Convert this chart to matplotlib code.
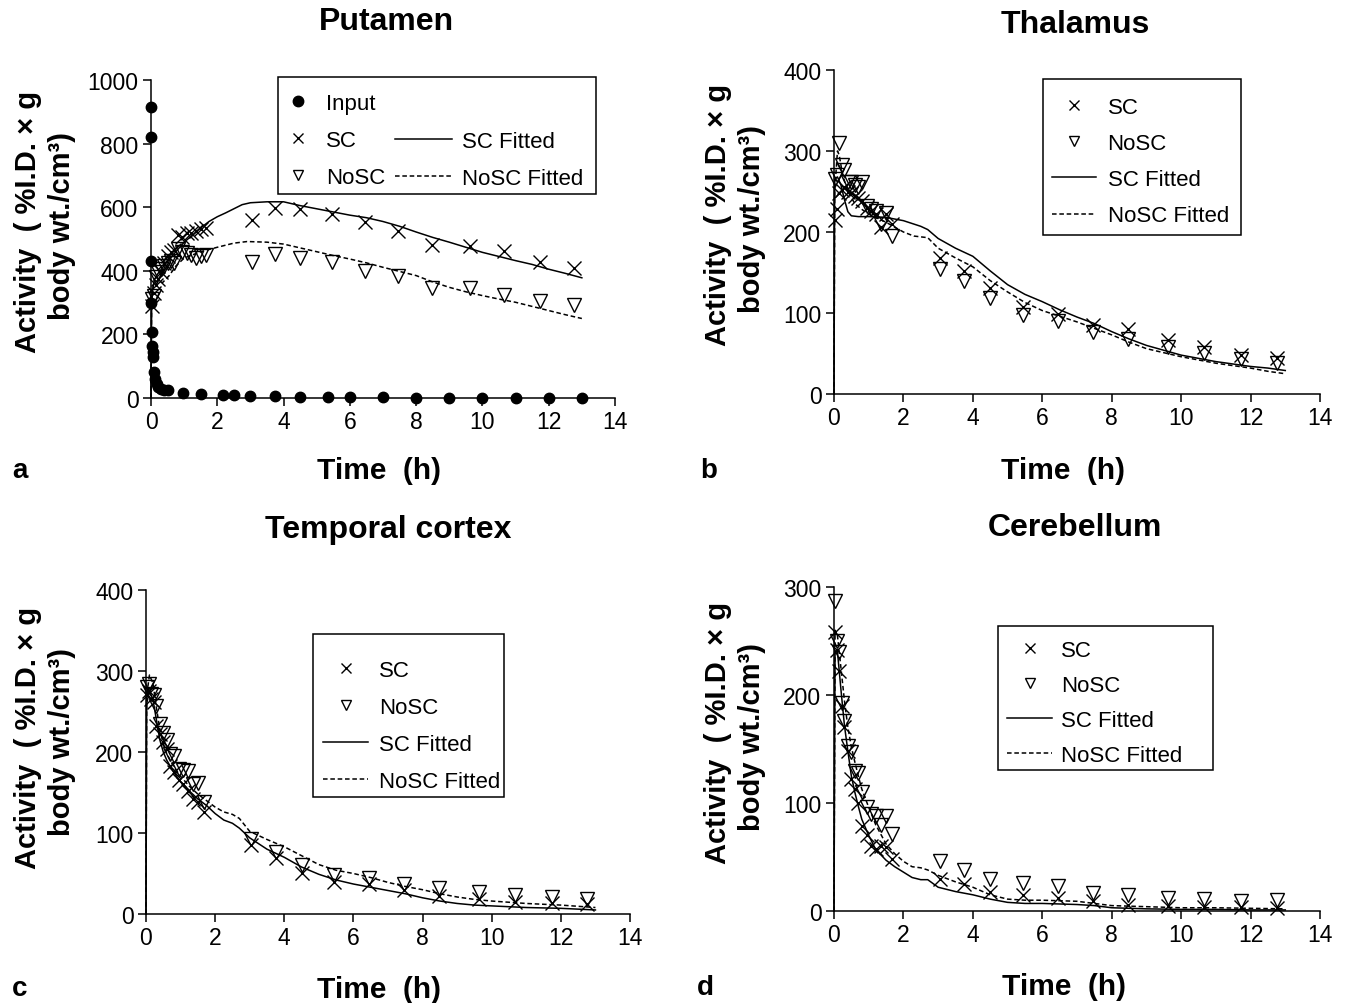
import matplotlib.pyplot as plt
from matplotlib.lines import Line2D
from matplotlib.patches import Rectangle

plt.rcParams['font.family'] = ['Liberation Sans', 'DejaVu Sans']

W, H = 1345, 1004

# frame mid-times (h)
t_early = [0.03, 0.08, 0.15, 0.22, 0.3, 0.4, 0.5, 0.6, 0.7, 0.82, 0.95, 1.08, 1.22, 1.36, 1.5, 1.67]
t_late = [3.05, 3.75, 4.5, 5.45, 6.45, 7.45, 8.47, 9.62, 10.66, 11.73, 12.77]
frame_t = t_early + t_late

# --- Putamen ---
input_t = [0, 0, 0, 0, 0.02, 0.03, 0.05, 0.07, 0.1, 0.13, 0.17, 0.22, 0.3, 0.4, 0.5,
           0.97, 1.5, 2.17, 2.5, 3.0, 3.75, 4.5, 5.35, 6.0, 7.0, 8.0, 9.0, 10.0, 11.0, 12.0, 13.0]
input_act = [915, 820, 430, 300, 207, 165, 145, 129, 82, 60, 45, 35, 28, 25, 24,
             16, 13, 9, 9, 6, 5, 3, 3, 2, 2, 1, 1, 1, 1, 1, 1]
put_sc = [290, 330, 355, 375, 395, 425, 445, 458, 465, 512, 506, 520, 518, 525, 530, 536,
          561, 597, 595, 579, 552, 525, 480, 478, 462, 428, 410]
put_nosc = [310, 320, 380, 395, 405, 415, 425, 430, 425, 470, 458, 455, 450, 441, 445, 450,
            428, 452, 441, 428, 400, 385, 345, 345, 325, 305, 293]
put_sc_fit_t = [0, 0.02, 0.05, 0.1, 0.2, 0.35, 0.5, 0.75, 1.0, 1.25, 1.5, 1.75, 2.0, 2.25, 2.5, 2.75,
                3.0, 3.5, 4.0, 4.5, 5.0, 5.5, 6.0, 6.5, 7.0, 7.5, 8.0, 8.5, 9.0, 9.5, 10, 10.5, 11,
                11.5, 12, 12.5, 13]
put_sc_fit = [0, 290, 340, 372, 390, 410, 430, 460, 490, 512, 535, 555, 570, 582, 595, 608,
              614, 617, 617, 605, 595, 585, 575, 567, 555, 540, 522, 505, 490, 474, 458, 445, 432,
              420, 405, 392, 378]
put_nosc_fit_t = [0, 0.02, 0.1, 0.2, 0.35, 0.55, 0.75, 1.0, 1.5, 2.0, 2.5, 2.9, 3.5, 4.0, 4.5, 5.0,
                  5.5, 6.0, 6.5, 7.0, 7.5, 8.0, 8.5, 9.0, 9.5, 10, 10.5, 11, 11.5, 12, 12.5, 13]
put_nosc_fit = [0, 320, 370, 366, 363, 385, 415, 440, 460, 474, 487, 492, 490, 484, 472, 460,
                448, 437, 425, 411, 398, 385, 365, 348, 334, 322, 311, 301, 288, 275, 262, 250]

# --- Thalamus ---
tha_sc = [215, 228, 248, 252, 255, 250, 248, 245, 242, 238, 230, 226, 222, 206, 222, 210,
          168, 152, 131, 108, 99, 85, 80, 67, 58, 48, 45]
tha_nosc = [265, 270, 310, 283, 276, 262, 262, 258, 255, 262, 232, 228, 226, 210, 224, 195,
            154, 140, 119, 97, 90, 76, 68, 58, 51, 43, 38]
tha_sc_fit_t = [0, 0.02, 0.1, 0.2, 0.3, 0.4, 0.5, 0.7, 1.0, 1.5, 2.0, 2.5, 2.7, 3.0, 3.5, 4.0, 4.5,
                5.0, 5.5, 6.0, 6.5, 7.0, 7.5, 8.0, 8.5, 9, 9.5, 10, 10.5, 11, 11.5, 12, 12.5, 13]
tha_sc_fit = [0, 265, 268, 258, 240, 225, 220, 219, 219, 218, 214, 207, 203, 192, 180, 170, 152,
              135, 123, 114, 104, 95, 87, 77, 68, 60, 54, 48, 44, 40, 37, 34, 32, 29]
tha_nosc_fit_t = [0, 0.02, 0.1, 0.15, 0.25, 0.4, 0.6, 0.8, 1.0, 1.5, 2.0, 2.3, 2.7, 3.0, 3.5, 4.0,
                  4.5, 5.0, 5.5, 6.0, 6.5, 7.0, 7.5, 8.0, 8.5, 9, 9.5, 10, 10.5, 11, 11.5, 12, 12.5, 13]
tha_nosc_fit = [0, 250, 300, 295, 270, 250, 235, 228, 222, 212, 200, 195, 193, 180, 168, 157,
                140, 126, 113, 103, 96, 89, 81, 73, 64, 56, 51, 46, 42, 38, 35, 32, 28, 25]

# --- Temporal cortex ---
tem_sc = [270, 275, 265, 262, 232, 222, 212, 204, 183, 175, 166, 160, 152, 142, 138, 126,
          85, 69, 51, 40, 37, 30, 22, 18, 15, 13, 12]
tem_nosc = [280, 284, 272, 270, 257, 235, 224, 215, 197, 195, 179, 178, 177, 160, 162, 138,
            93, 77, 60, 48, 45, 37, 32, 27, 23, 21, 19]
tem_sc_fit_t = [0, 0.02, 0.1, 0.2, 0.3, 0.4, 0.5, 0.6, 0.8, 1.0, 1.25, 1.5, 1.75, 2.0, 2.25, 2.5,
                2.7, 3.0, 3.5, 4.0, 4.5, 5.0, 5.5, 6.0, 6.5, 7.0, 7.5, 8.0, 8.5, 9, 9.5, 10, 11, 12, 13]
tem_sc_fit = [0, 260, 275, 265, 240, 215, 200, 190, 175, 163, 152, 142, 134, 124, 116, 112,
              106, 94, 80, 70, 58, 49, 42, 37, 33, 29, 25, 20, 16, 13, 11, 10, 8, 7, 5]
tem_nosc_fit_t = [0, 0.02, 0.1, 0.2, 0.3, 0.4, 0.5, 0.6, 0.8, 1.0, 1.25, 1.5, 1.75, 2.0, 2.25, 2.5,
                  2.7, 3.0, 3.5, 4.0, 4.5, 5.0, 5.5, 6.0, 6.5, 7.0, 7.5, 8.0, 8.5, 9, 9.5, 10, 11, 12, 13]
tem_nosc_fit = [0, 270, 295, 285, 255, 228, 210, 198, 182, 170, 158, 148, 140, 132, 126, 123,
                118, 102, 92, 83, 72, 61, 54, 50, 45, 39, 34, 30, 25, 21, 18, 16, 13, 11, 8]

# --- Cerebellum ---
cer_sc = [258, 242, 222, 190, 170, 148, 122, 113, 100, 79, 70, 60, 57, 60, 59, 48,
          30, 25, 18, 15, 12, 9, 6, 5, 4, 4, 3]
cer_nosc = [287, 250, 240, 193, 176, 153, 147, 130, 128, 110, 96, 90, 88, 80, 88, 71,
            46, 38, 30, 26, 23, 17, 15, 12, 11, 9, 10]
cer_sc_fit_t = [0, 0.03, 0.1, 0.2, 0.3, 0.4, 0.5, 0.6, 0.7, 0.8, 1.0, 1.2, 1.5, 1.75, 2.0, 2.25,
                2.5, 2.7, 3.0, 3.5, 4.0, 4.5, 5.0, 5.5, 6.0, 7.0, 7.5, 8.0, 9, 10, 11, 12, 13]
cer_sc_fit = [0, 240, 240, 205, 172, 148, 125, 110, 97, 85, 70, 57, 47, 41, 36, 31,
              29, 29, 22, 18, 15, 11, 8, 7, 7, 6, 5, 3, 2, 1.5, 1.5, 1, 1]
cer_nosc_fit_t = [0, 0.03, 0.1, 0.2, 0.3, 0.4, 0.5, 0.6, 0.7, 0.8, 1.0, 1.2, 1.5, 1.75, 2.0, 2.25,
                  2.5, 2.7, 3.0, 3.5, 4.0, 4.5, 5.0, 5.5, 6.0, 7.0, 7.5, 8.0, 9, 10, 11, 12, 13]
cer_nosc_fit = [0, 260, 255, 225, 195, 170, 152, 138, 125, 113, 96, 80, 62, 53, 46, 41,
                40, 38, 33, 27, 22, 15, 11, 10, 10, 9, 7, 5, 4, 3, 3, 2.5, 2]

ylabel_1 = 'Activity  ( %I.D. × g'
ylabel_2 = 'body wt./cm³)'

fig = plt.figure(figsize=(W / 100, H / 100), dpi=100)


def px(x, y):
    return (x / W, 1 - y / H)


def add_ax(x0, x1, y_top, y_bot):
    return fig.add_axes([x0 / W, 1 - y_bot / H, (x1 - x0) / W, (y_bot - y_top) / H])


def style(ax, ymax, ystep):
    ax.set_xlim(0, 14)
    ax.set_ylim(0, ymax)
    ax.set_xticks(range(0, 15, 2))
    ax.set_yticks(range(0, ymax + 1, ystep))
    for s in ['top', 'right']:
        ax.spines[s].set_visible(False)
    for s in ['left', 'bottom']:
        ax.spines[s].set_linewidth(1.1)
    ax.tick_params(direction='out', length=6, width=1.1, labelsize=16.5, pad=3)


def draw(ax, sc, nosc, sc_fit_t, sc_fit, nosc_fit_t, nosc_fit):
    ax.plot(sc_fit_t, sc_fit, '-', color='black', lw=1.1, clip_on=False)
    ax.plot(nosc_fit_t, nosc_fit, color='black', lw=1.1, dashes=(3, 1.8), clip_on=False)
    ax.plot(frame_t, sc, 'x', color='black', ms=10, mew=1.0, clip_on=False)
    ax.plot(frame_t, nosc, 'v', color='black', mfc='none', ms=9.5, mew=1.0, clip_on=False)


def frame(x0, x1, y0, y1):
    fig.add_artist(Rectangle(px(x0, y1), (x1 - x0) / W, (y1 - y0) / H, transform=fig.transFigure,
                             fill=False, edgecolor='black', lw=1.1))


h_sc = Line2D([], [], ls='none', marker='x', color='black', ms=7, mew=1.0)
h_nosc = Line2D([], [], ls='none', marker='v', color='black', mfc='none', ms=7, mew=1.0)
h_scf = Line2D([], [], color='black', lw=1.1)
h_noscf = Line2D([], [], color='black', lw=1.1, dashes=(3, 1.8))
h_input = Line2D([], [], ls='none', marker='o', color='black', ms=7.5)

leg_kw = dict(fontsize=16, frameon=False, borderaxespad=0, borderpad=0,
              bbox_transform=fig.transFigure, loc='upper left')
labels4 = ['SC', 'NoSC', 'SC Fitted', 'NoSC Fitted']
handles4 = [h_sc, h_nosc, h_scf, h_noscf]

# a: Putamen
ax = add_ax(151, 615, 81, 399)
style(ax, 1000, 200)
draw(ax, put_sc, put_nosc, put_sc_fit_t, put_sc_fit, put_nosc_fit_t, put_nosc_fit)
ax.plot(input_t, input_act, 'o', color='black', ms=7.5, clip_on=False)
frame(278, 596, 78, 195)
lg1 = ax.legend([h_input, h_sc, h_nosc], ['Input', 'SC', 'NoSC'], bbox_to_anchor=px(287, 94),
                handlelength=1.0, handletextpad=0.77, labelspacing=0.72, **leg_kw)
ax.add_artist(lg1)
ax.legend([h_scf, h_noscf], ['SC Fitted', 'NoSC Fitted'], bbox_to_anchor=px(395, 132),
          handlelength=2.57, handletextpad=0.45, labelspacing=0.72, **leg_kw)

# b: Thalamus
ax = add_ax(834, 1320, 71, 395)
style(ax, 400, 100)
draw(ax, tha_sc, tha_nosc, tha_sc_fit_t, tha_sc_fit, tha_nosc_fit_t, tha_nosc_fit)
frame(1043, 1241, 80, 236)
ax.legend(handles4, labels4, bbox_to_anchor=px(1052, 98), handlelength=2.0, handletextpad=0.5,
          labelspacing=0.68, **leg_kw)

# c: Temporal cortex
ax = add_ax(146, 630, 591, 915)
style(ax, 400, 100)
draw(ax, tem_sc, tem_nosc, tem_sc_fit_t, tem_sc_fit, tem_nosc_fit_t, tem_nosc_fit)
frame(313, 504, 635, 798)
ax.legend(handles4, labels4, bbox_to_anchor=px(323, 661), handlelength=2.03, handletextpad=0.5,
          labelspacing=0.72, **leg_kw)

# d: Cerebellum
ax = add_ax(834, 1320, 588, 912)
style(ax, 300, 100)
draw(ax, cer_sc, cer_nosc, cer_sc_fit_t, cer_sc_fit, cer_nosc_fit_t, cer_nosc_fit)
frame(998, 1213, 627, 771)
ax.legend(handles4, labels4, bbox_to_anchor=px(1007, 641), handlelength=2.03, handletextpad=0.42,
          labelspacing=0.63, **leg_kw)

# titles, axis labels, panel letters
titles = [('Putamen', 386, 22), ('Thalamus', 1075, 25), ('Temporal cortex', 388, 530), ('Cerebellum', 1075, 528)]
for txt, x, y in titles:
    fig.text(*px(x, y), txt, fontsize=23, fontweight='bold', ha='center', va='center')

for x, y in [(379, 471), (1063, 471), (379, 990), (1064, 987)]:
    fig.text(*px(x, y), 'Time  (h)', fontsize=21.5, fontweight='bold', ha='center', va='center')

for x, y in [(28, 222), (718, 215), (28, 738), (718, 733)]:
    fig.text(*px(x, y), ylabel_1, fontsize=21, fontweight='bold', rotation=90,
             ha='center', va='center')
    fig.text(*px(x + 34, y + 4), ylabel_2, fontsize=21, fontweight='bold', rotation=90,
             ha='center', va='center')

for txt, x, y in [('a', 20, 471), ('b', 709, 471), ('c', 20, 989), ('d', 705, 988)]:
    fig.text(*px(x, y), txt, fontsize=20, fontweight='bold', ha='center', va='center')

fig.savefig('out.png', dpi=100)
